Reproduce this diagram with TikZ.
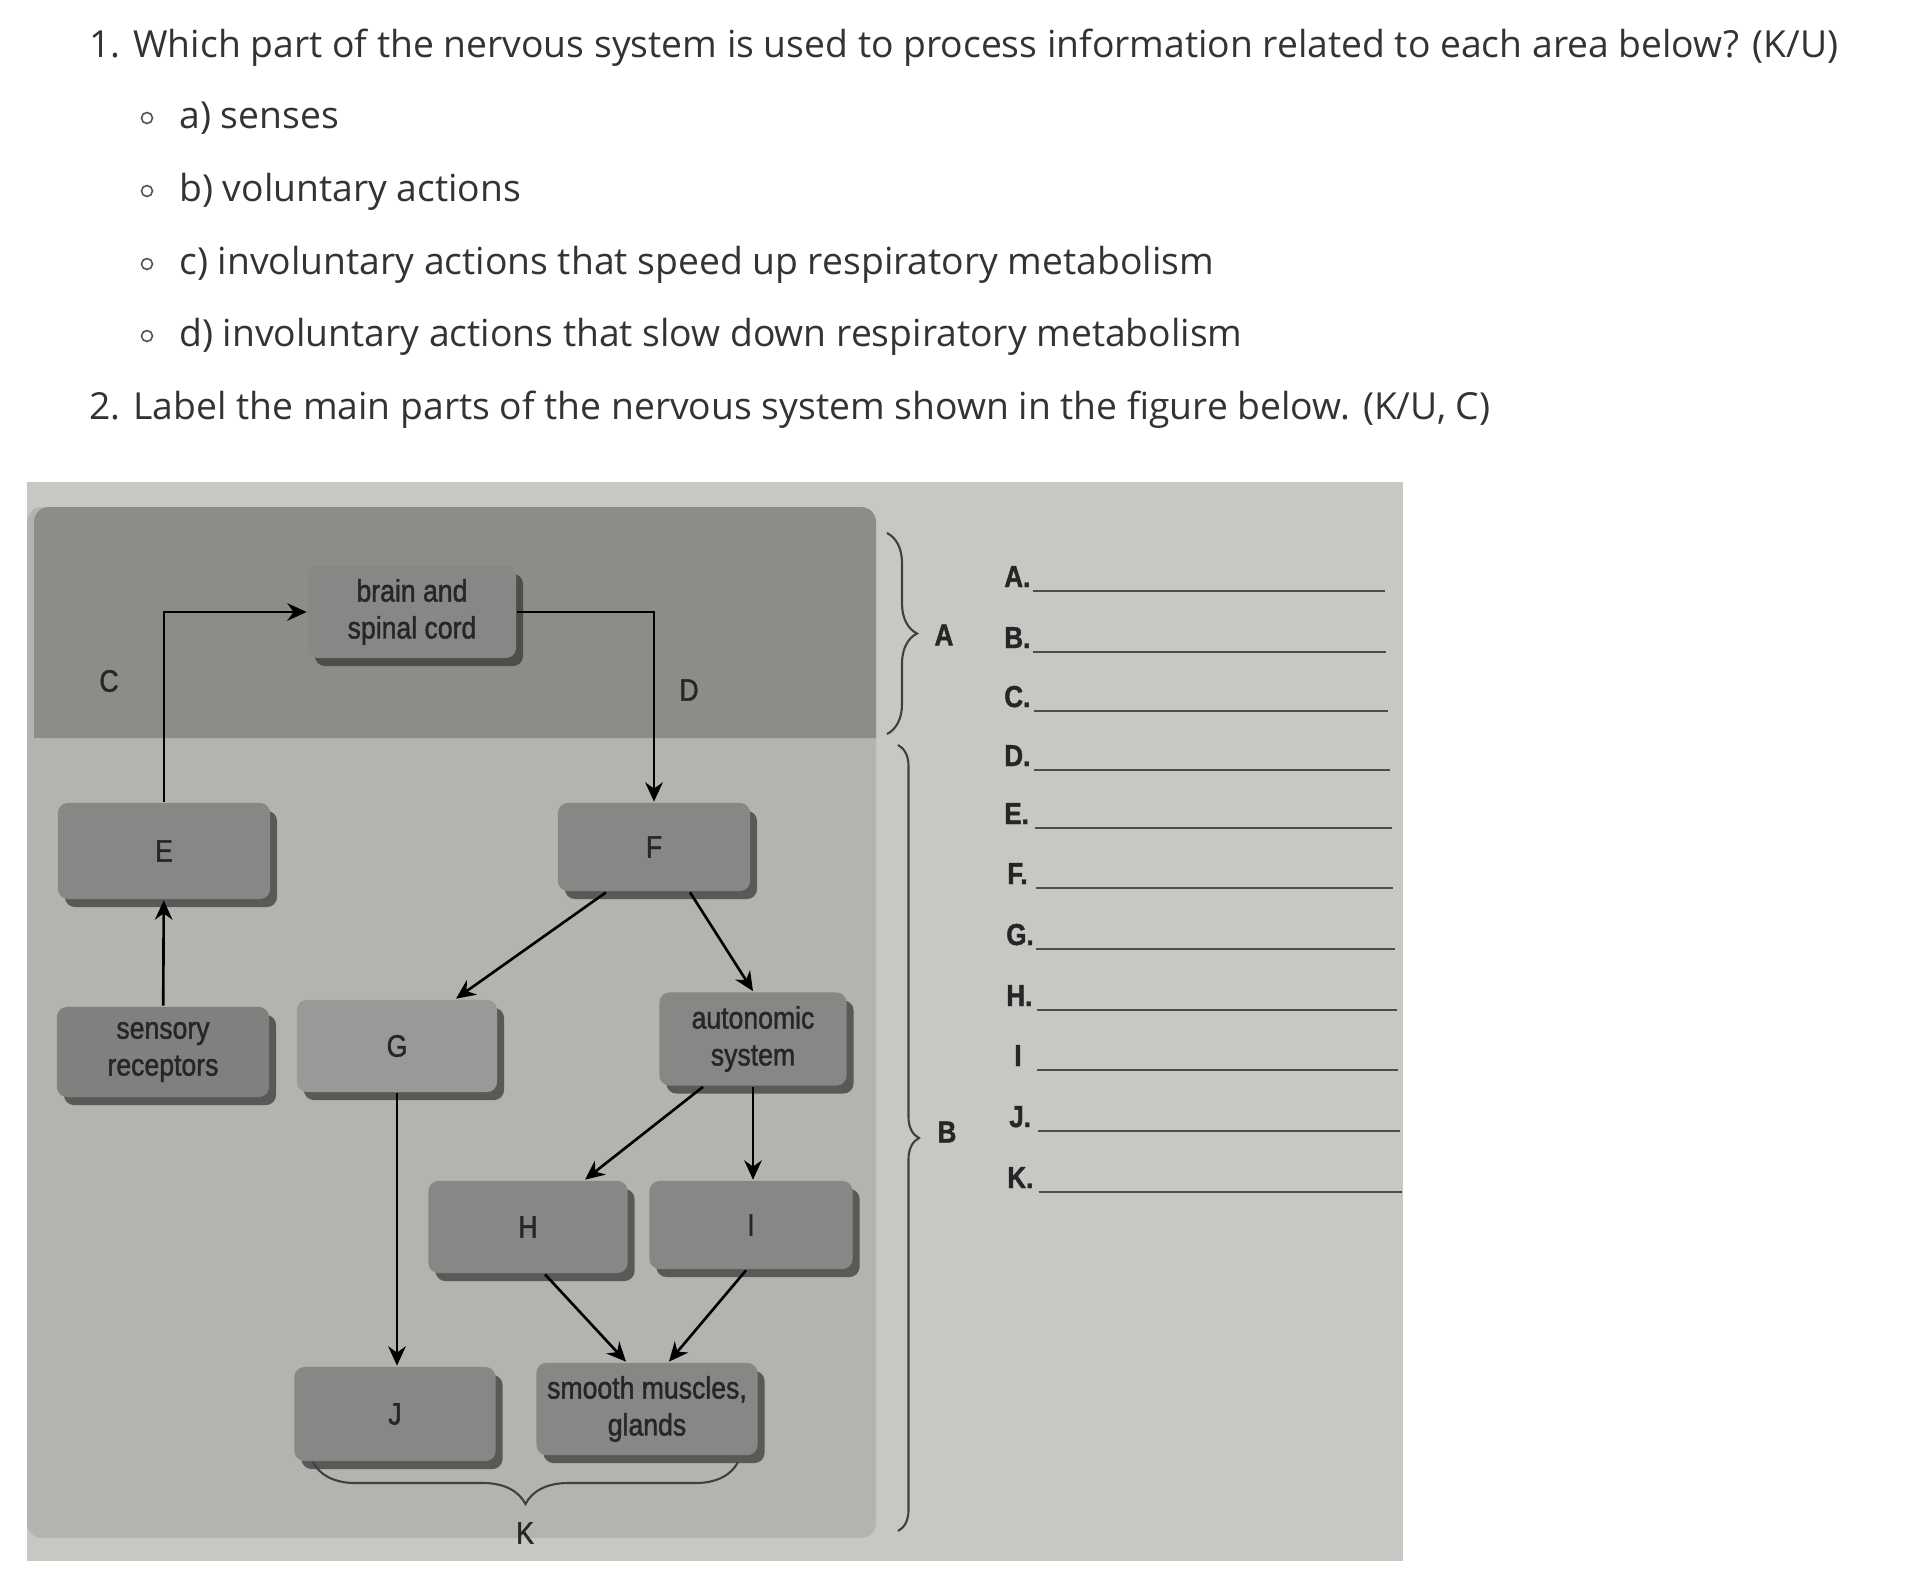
\documentclass[tikz,border=0pt]{standalone}
\usepackage{fontspec}
\setmainfont{Open Sans}
\newfontfamily\figfont[FakeStretch=0.86,FakeBold=1.4]{Liberation Sans}
\usetikzlibrary{arrows,arrows.meta,shadows,decorations.pathreplacing}

\definecolor{qtext}{HTML}{333333}
\definecolor{paper}{HTML}{C9C7C3}
\definecolor{cnspanel}{HTML}{8E8C89}
\definecolor{pnspanel}{HTML}{B5B3AF}
\definecolor{boxgray}{HTML}{898785}
\definecolor{ink}{HTML}{262626}

\tikzset{
  question/.style={anchor=base west,text=qtext,inner sep=0pt,
    font=\fontsize{10.6}{13}\selectfont},
  part/.style={rectangle,rounded corners=.1cm,fill=boxgray,text=ink,align=center,
    inner sep=0pt,minimum height=.92cm,font=\figfont\fontsize{8.8}{10.5}\selectfont,
    drop shadow={shadow xshift=.07cm,shadow yshift=-.08cm,fill=black!80,opacity=.7}},
  tag/.style={text=ink,inner sep=0pt,font=\figfont\fontsize{8.8}{10.5}\selectfont},
  listtag/.style={anchor=base west,text=ink,inner sep=0pt,
    font=\figfont\bfseries\fontsize{8.6}{10.5}\selectfont},
  answer/.style={draw=black!70,line width=.6pt},
  bracket/.style={draw=black!75,line width=.6pt,decorate,
    decoration={brace,amplitude=#1}},
}

\begin{document}
\begin{tikzpicture}[x=0.01cm,y=-0.01cm,line width=.75pt,>={Stealth[length=5.5pt,width=5pt]}]
\useasboundingbox (0,0) rectangle (1908,1578);
\fill[white] (0,0) rectangle (1908,1578);

% questions
\node[question] (q1) at (88,57) {1. Which part of the nervous system is used to process information related to each area below? (K/U)};
\node[question] (qa) at (178,128) {a) senses};
\node[question] (qb) at (178,201) {b) voluntary actions};
\node[question] (qc) at (178,274) {c) involuntary actions that speed up respiratory metabolism};
\node[question] (qd) at (178,346) {d) involuntary actions that slow down respiratory metabolism};
\node[question] (q2) at (88,419) {2. Label the main parts of the nervous system shown in the figure below. (K/U, C)};
\foreach \by in {128,201,274,346}
  \draw[qtext!85,line width=.45pt] (147,\by-10) circle (5.5);

% photo of the figure
\fill[paper] (27,482) rectangle (1403,1561);
\fill[pnspanel,rounded corners=.15cm] (27,507) -- (876,507) -- (876,1538) -- (27,1538) -- cycle;
\fill[cnspanel,rounded corners=.15cm] (34,738) -- (34,507) -- (876,507) [sharp corners] -- (876,738) -- cycle;

% parts
\node[part,minimum width=2.08cm] (brain) at (412,612) {brain and\\spinal cord};
\node[part,minimum width=2.12cm,minimum height=.96cm] (e) at (164,851) {E};
\node[part,minimum width=1.92cm,minimum height=.88cm] (f) at (654,847) {F};
\node[part,minimum width=2.12cm,minimum height=.9cm,fill=boxgray!95!black] (sensory) at (163,1052) {sensory\\receptors};
\node[part,minimum width=2cm,fill=boxgray!85!white] (g) at (397,1046) {G};
\node[part,minimum width=1.87cm,minimum height=.93cm] (auto) at (753,1039) {autonomic\\system};
\node[part,minimum width=1.99cm] (h) at (528,1227) {H};
\node[part,minimum width=2.03cm,minimum height=.88cm] (i) at (751,1225) {I};
\node[part,minimum width=2.01cm,minimum height=.94cm] (j) at (395,1414) {J};
\node[part,minimum width=2.21cm] (smooth) at (647,1409) {smooth muscles,\\glands};

\node[tag] (c) at (109,681) {C};
\node[tag] (d) at (689,690) {D};

% pathways
\draw[->] (e.north) |- (brain.west);
\draw[->] (brain.east) -| (f.north);
\path[every edge/.style={draw,->}]
 (sensory) edge (e)
 ([xshift=-.48cm]f.south) edge ([xshift=.59cm]g.north)
 ([xshift=.36cm]f.south) edge (auto.north)
 (g.south) edge (g.south |- j.north)
 ([xshift=-.5cm]auto.south) edge ([xshift=.57cm]h.north)
 (auto.south) edge (auto.south |- i.north)
 ([xshift=.17cm]h.south) edge ([xshift=-.21cm]smooth.north)
 ([xshift=-.05cm]i.south) edge ([xshift=.22cm]smooth.north)
 ;

% braces
\coordinate (kright) at (738,1462);
\coordinate (kleft) at (313,1462);
\draw[bracket=.42cm] (kright) -- (kleft);
\node[tag] (k) at (525,1533) {K};

\coordinate (atop) at (887,533);
\coordinate (abot) at (887,734);
\draw[bracket=.3cm] (atop) -- (abot);
\node[tag,font=\figfont\bfseries\fontsize{8.6}{10.5}\selectfont] (a) at (944,635) {A};

\coordinate (btop) at (898,745);
\coordinate (bbot) at (898,1531);
\draw[bracket=.21cm] (btop) -- (bbot);
\node[tag,font=\figfont\bfseries\fontsize{8.6}{10.5}\selectfont] (b) at (947,1132) {B};

% answer list
\foreach \lab/\lx/\ly [count=\k] in {A./1003/591, B./1003/652, C./1003/711, D./1003/770,
  E./1003/828, F./1006/888, G./1005/949, H./1005/1010, I/1013/1070, J./1008/1131, K./1006/1192}
{
  \node[listtag] (l\k) at (\lx,\ly-4) {\lab};
  \draw[answer] (1032+0.6*\k,\ly) -- (1383+1.7*\k,\ly);
}
\end{tikzpicture}
\end{document}
